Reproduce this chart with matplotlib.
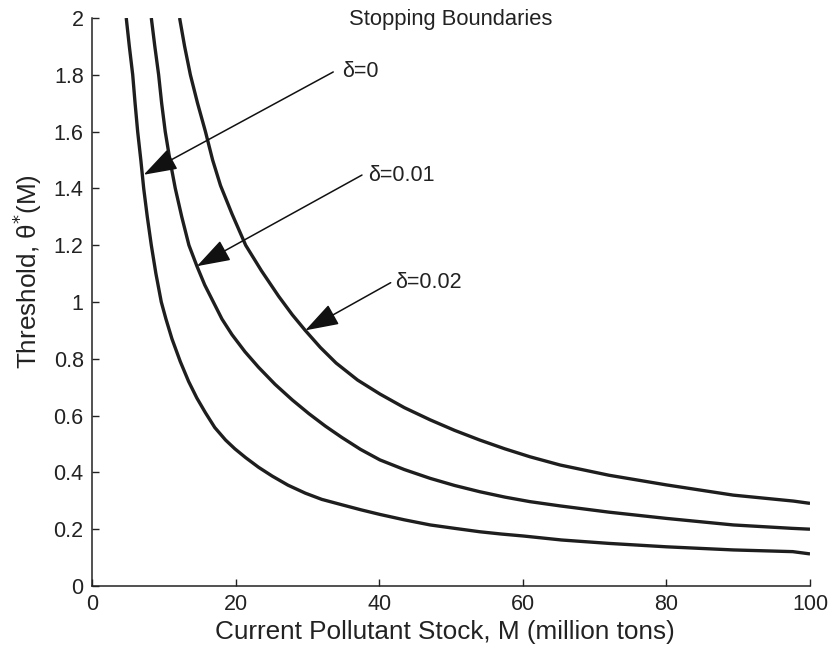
import matplotlib
matplotlib.use("Agg")
import matplotlib.pyplot as plt

plt.rcParams['font.family'] = ['Liberation Sans', 'DejaVu Sans']

# Data
m_d0 = [4.77, 5.2, 5.67, 6.0, 6.36, 6.8, 7.2, 7.7, 8.26, 8.9, 9.65, 10.3, 11.14, 12.3, 13.46,
        14.6, 15.8, 17.1, 18.6, 19.9, 21.4, 23.2, 25.1, 27.3, 29.7, 32.0, 34.8, 37.5,
        40.1, 43.5, 47.1, 50.5, 54.0, 57.0, 60.1, 65.4, 72.0, 80.0, 89.3, 97.6, 100.0]
t_d0 = [2.0, 1.9, 1.8, 1.7, 1.6, 1.5, 1.4, 1.3, 1.2, 1.1, 1.0, 0.94, 0.87, 0.79, 0.72,
        0.662, 0.61, 0.558, 0.514, 0.483, 0.452, 0.418, 0.387, 0.355, 0.327, 0.305, 0.286, 0.268,
        0.252, 0.233, 0.215, 0.203, 0.191, 0.183, 0.176, 0.162, 0.15, 0.138, 0.127, 0.121, 0.113]

m_d1 = [8.26, 8.75, 9.28, 9.7, 10.2, 10.85, 11.6, 12.5, 13.5, 14.6, 15.7, 16.9, 18.1, 19.5,
        21.3, 23.2, 25.5, 27.9, 30.2, 32.5, 34.8, 37.4, 40.1, 43.5, 47.1, 50.5, 54.0,
        57.5, 61.0, 65.2, 72.0, 80.0, 89.3, 97.5, 100.0]
t_d1 = [2.0, 1.9, 1.8, 1.7, 1.6, 1.5, 1.4, 1.3, 1.2, 1.127, 1.06, 1.0, 0.94, 0.885,
        0.825, 0.77, 0.71, 0.655, 0.607, 0.563, 0.523, 0.481, 0.444, 0.41, 0.379, 0.354, 0.332,
        0.313, 0.297, 0.282, 0.26, 0.238, 0.215, 0.203, 0.2]

m_d2 = [12.2, 12.9, 13.7, 14.7, 15.8, 16.8, 17.9, 19.5, 21.4, 23.6, 26.0, 27.9, 29.7, 31.8,
        34.0, 37.0, 40.1, 43.5, 47.1, 50.5, 54.0, 57.5, 61.0, 65.2, 72.0, 80.0, 89.3, 97.7, 100.0]
t_d2 = [2.0, 1.9, 1.8, 1.7, 1.6, 1.5, 1.41, 1.31, 1.2, 1.11, 1.02, 0.955, 0.9, 0.84,
        0.785, 0.725, 0.676, 0.628, 0.585, 0.548, 0.514, 0.483, 0.455, 0.426, 0.39, 0.356, 0.32, 0.299, 0.291]

x_ticks = [0, 20, 40, 60, 80, 100]
y_ticks = [0, 0.2, 0.4, 0.6, 0.8, 1.0, 1.2, 1.4, 1.6, 1.8, 2.0]
y_ticklabels = ['0', '0.2', '0.4', '0.6', '0.8', '1', '1.2', '1.4', '1.6', '1.8', '2']

labels = ['δ=0', 'δ=0.01', 'δ=0.02']
arrow_tips = [(7.2, 1.448), (14.6, 1.126), (29.7, 0.9)]
arrow_tails = [(33.6, 1.81), (37.6, 1.447), (41.6, 1.068)]
text_pos = [(34.8, 1.81), (38.5, 1.444), (42.2, 1.068)]

W, H = 832, 652
fig = plt.figure(figsize=(W / 100, H / 100), dpi=100)
ax = fig.add_axes([92 / W, 1 - 586 / H, (810 - 92) / W, (586 - 18) / H])

col = '#1e1e1e'
for m, t in [(m_d0, t_d0), (m_d1, t_d1), (m_d2, t_d2)]:
    ax.plot(m, t, color=col, lw=2.4, solid_joinstyle='round', solid_capstyle='butt')

ax.set_xlim(0, 100)
ax.set_ylim(0, 2)
ax.set_xticks(x_ticks)
ax.set_yticks(y_ticks)
ax.set_yticklabels(y_ticklabels)
ax.tick_params(direction='in', length=5, width=1, labelsize=15.5, colors='#222222', pad=6)
for s in ['top', 'right']:
    ax.spines[s].set_visible(False)
for s in ['left', 'bottom']:
    ax.spines[s].set_linewidth(1.1)
    ax.spines[s].set_color('#222222')

fig.text(445 / W, 1 - 632 / H, 'Current Pollutant Stock, M (million tons)',
         ha='center', va='center', fontsize=18.8, color='#222222')
fig.text(27 / W, 1 - 272 / H, 'Threshold, θ$^{*}$(M)', rotation=90,
         ha='center', va='center', fontsize=18.8, color='#222222')

ax.text(0.5, (586 - 20) / 568, 'Stopping Boundaries', transform=ax.transAxes,
        ha='center', va='center', fontsize=15.8, color='#222222')

for lab, tip, tail, tp in zip(labels, arrow_tips, arrow_tails, text_pos):
    ax.annotate('', xy=tip, xytext=tail,
                arrowprops=dict(arrowstyle='-|>,head_length=1.5,head_width=0.5',
                                mutation_scale=14, lw=1.1, color='#111111',
                                shrinkA=0, shrinkB=0))
    ax.text(tp[0], tp[1], lab, ha='left', va='center', fontsize=15.5, color='#222222')

fig.savefig('out.png', dpi=100)
